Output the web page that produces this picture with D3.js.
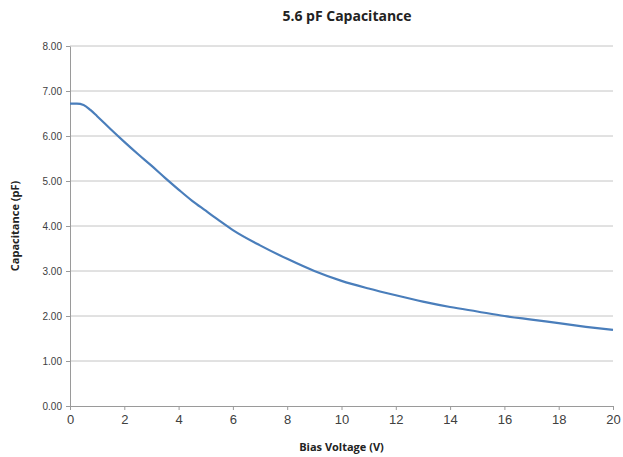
<!DOCTYPE html>
<html>
<head>
<meta charset="UTF-8">
<script src="https://d3js.org/d3.v7.min.js"></script>
<style>
  body { margin: 0; background: #fff; font-family: "Open Sans", "Noto Sans", sans-serif; }
  .grid line { stroke: #c4c4c4; stroke-width: 1px; }
  .axis path, .axis line { stroke: #9a9a9a; }
  .axis text { fill: #404040; }
</style>
</head>
<body>
<svg width="623" height="457"></svg>
<script>
// bias voltage (V) and measured capacitance (pF)
const voltage = [0, 0.25, 0.5, 0.75, 1, 1.5, 2, 2.5, 3, 3.5, 4, 4.5, 5, 5.5, 6, 7, 8, 9, 10, 11, 12, 13, 14, 15, 16, 17, 18, 19, 20];
const capacitance = [6.72, 6.72, 6.69, 6.58, 6.44, 6.15, 5.87, 5.60, 5.34, 5.07, 4.81, 4.56, 4.34, 4.12, 3.91, 3.57, 3.27, 3.00, 2.78, 2.61, 2.46, 2.32, 2.20, 2.10, 2.00, 1.92, 1.84, 1.76, 1.69];
const xTicks = [0, 2, 4, 6, 8, 10, 12, 14, 16, 18, 20];
const yTicks = [0, 1, 2, 3, 4, 5, 6, 7, 8];

const svg = d3.select("svg");
const m = { left: 70, right: 10, top: 46, bottom: 51 };
const W = 623, H = 457;

const x = d3.scaleLinear().domain([0, 20]).range([m.left, W - m.right]);
const y = d3.scaleLinear().domain([0, 8]).range([H - m.bottom, m.top]);

// gridlines
svg.append("g").attr("class", "grid")
  .selectAll("line").data(yTicks.filter(d => d > 0)).enter()
  .append("line")
  .attr("x1", x(0)).attr("x2", x(20))
  .attr("y1", d => y(d)).attr("y2", d => y(d));

// y axis
const ya = svg.append("g").attr("class", "axis")
  .attr("transform", `translate(${x(0)},0)`)
  .call(d3.axisLeft(y).tickValues(yTicks).tickFormat(d3.format(".2f")).tickSize(4).tickSizeOuter(0));
ya.selectAll("text").style("font-size", "10px").attr("x", -8);

// x axis
const xa = svg.append("g").attr("class", "axis")
  .attr("transform", `translate(0,${y(0)})`)
  .call(d3.axisBottom(x).tickValues(xTicks).tickFormat(d3.format("d")).tickSize(4).tickSizeOuter(0));
xa.selectAll("text").style("font-size", "13px").attr("y", 9);

// curve
const line = d3.line()
  .x((d, i) => x(voltage[i]))
  .y(d => y(d))
  .curve(d3.curveMonotoneX);

svg.append("path")
  .datum(capacitance)
  .attr("fill", "none")
  .attr("stroke", "#4a7ebb")
  .attr("stroke-width", 2.2)
  .attr("d", line);

// titles
svg.append("text")
  .attr("x", 347).attr("y", 21)
  .attr("text-anchor", "middle")
  .style("font-size", "14px").style("font-weight", "bold").attr("fill", "#222")
  .text("5.6 pF Capacitance");

svg.append("text")
  .attr("x", (x(0) + x(20)) / 2).attr("y", 451)
  .attr("text-anchor", "middle")
  .style("font-size", "11px").style("font-weight", "bold").attr("fill", "#222")
  .text("Bias Voltage (V)");

svg.append("text")
  .attr("transform", `translate(19,${y(4)}) rotate(-90)`)
  .attr("text-anchor", "middle")
  .style("font-size", "11px").style("font-weight", "bold").attr("fill", "#222")
  .text("Capacitance (pF)");
</script>
</body>
</html>
